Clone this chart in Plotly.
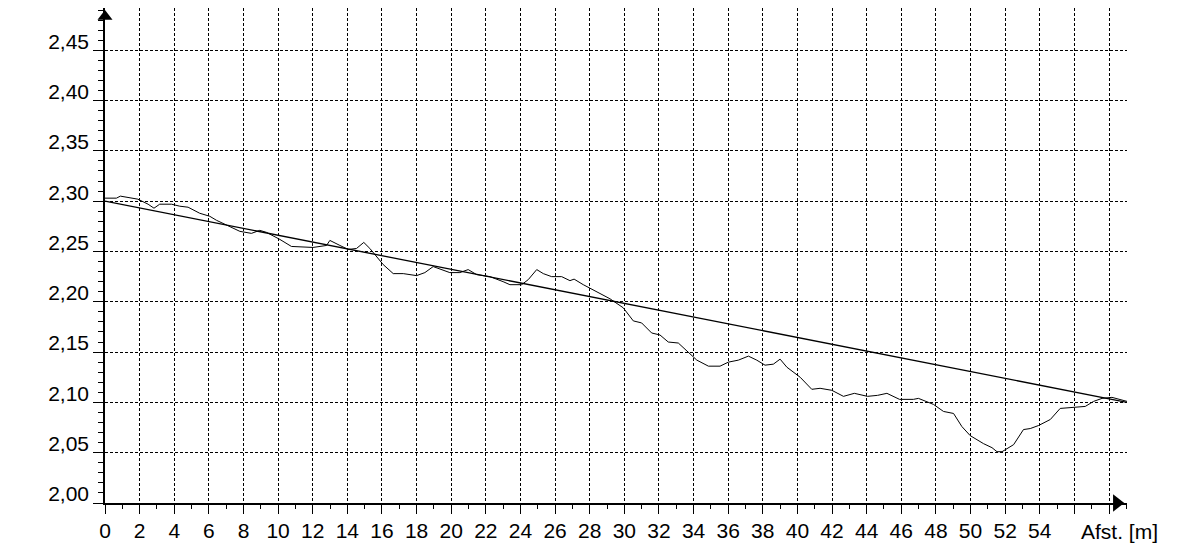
#%%
'''
height profile along the measured line, with the straight reference line
'''

import plotly.graph_objects as go

#### data (distance in m, level in m)
afstand = [0, 0.66, 0.89, 1.9, 2.49, 2.83, 3.16, 3.84, 4.32, 4.8,
           5.47, 6.05, 6.44, 7.2, 7.79, 8.46, 8.94, 9.33, 10.1, 10.77,
           12.02, 12.8, 12.99, 13.57, 14.05, 14.53, 14.95, 15.3, 16.07, 16.65,
           17.23, 18.0, 18.48, 18.96, 19.45, 19.92, 20.5, 20.98, 21.47, 22.24,
           23.0, 23.39, 24.07, 24.45, 24.94, 25.32, 25.8, 26.38, 26.86, 27.1,
           27.63, 28.4, 29.17, 29.94, 30.52, 31.0, 31.58, 32.06, 32.54, 33.12,
           33.6, 34.19, 34.86, 35.53, 36.01, 36.59, 37.17, 37.65, 38.13, 38.61,
           39.0, 39.39, 40.16, 40.83, 41.31, 41.99, 42.66, 43.29, 44.05, 44.63,
           45.17, 45.9, 46.7, 46.99, 47.86, 48.44, 49.02, 49.5, 49.98, 50.75,
           51.24, 51.53, 51.82, 52.49, 53.06, 53.45, 53.93, 54.61, 55.18, 55.76,
           56.63, 57.11, 57.6, 58.17, 58.55, 59.04]
kote = [2.303, 2.303, 2.305, 2.302, 2.297, 2.293, 2.297, 2.297, 2.295, 2.294,
        2.288, 2.285, 2.281, 2.275, 2.270, 2.268, 2.271, 2.269, 2.262, 2.255,
        2.254, 2.256, 2.261, 2.256, 2.252, 2.253, 2.259, 2.253, 2.237, 2.228,
        2.228, 2.226, 2.229, 2.235, 2.232, 2.229, 2.229, 2.232, 2.227, 2.225,
        2.220, 2.217, 2.217, 2.222, 2.232, 2.228, 2.225, 2.225, 2.221, 2.2225,
        2.217, 2.210, 2.203, 2.194, 2.181, 2.179, 2.169, 2.167, 2.160, 2.159,
        2.151, 2.142, 2.136, 2.136, 2.140, 2.142, 2.146, 2.142, 2.137, 2.138,
        2.143, 2.135, 2.125, 2.113, 2.114, 2.112, 2.106, 2.109, 2.106, 2.107,
        2.109, 2.103, 2.103, 2.104, 2.098, 2.091, 2.089, 2.076, 2.067, 2.059,
        2.055, 2.051, 2.051, 2.058, 2.073, 2.074, 2.077, 2.083, 2.094, 2.095,
        2.096, 2.101, 2.104, 2.105, 2.103, 2.101]

# straight line between the end points
linie_afstand = [0, 59.04]
linie_kote = [2.30, 2.10]

x_tickvals = list(range(0, 60, 2))
x_ticktext = [str(v) if v <= 54 else '' for v in x_tickvals]
y_tickvals = [2.00, 2.05, 2.10, 2.15, 2.20, 2.25, 2.30, 2.35, 2.40, 2.45]
x_titel = 'Afst. [m]'

font_navn = 'Liberation Sans Narrow, Liberation Sans, Arial'

fig = go.Figure()
fig.add_trace(go.Scatter(x=linie_afstand, y=linie_kote, mode='lines',
                         line=dict(color='black', width=1.3), hoverinfo='skip'))
fig.add_trace(go.Scatter(x=afstand, y=kote, mode='lines',
                         line=dict(color='black', width=1), hoverinfo='skip'))

#### axis arrows
fig.add_trace(go.Scatter(x=[0], y=[2.4835], mode='markers', cliponaxis=False,
                         marker=dict(symbol='triangle-up', size=13, color='black'),
                         hoverinfo='skip'))
fig.add_trace(go.Scatter(x=[58.45], y=[2.0], mode='markers', cliponaxis=False,
                         marker=dict(symbol='triangle-right', size=15, color='black'),
                         hoverinfo='skip'))

fig.add_annotation(x=58.6, y=0, xref='x', yref='paper', yshift=-28,
                   text=x_titel, showarrow=False, xanchor='center', yanchor='middle',
                   font=dict(family=font_navn, size=21, color='black'))

# the page puts the figure 8 px in from the top left corner
fig.update_layout(
    width=1189, height=560,
    margin=dict(l=97, r=70, t=0, b=65),
    paper_bgcolor='white', plot_bgcolor='white',
    showlegend=False,
    separators=',.',
    font=dict(family=font_navn, size=21, color='black'),
)
fig.update_xaxes(range=[0, 59.04], tickvals=x_tickvals, ticktext=x_ticktext,
                 showgrid=True, gridcolor='black', griddash='3px,2px', gridwidth=1,
                 showline=True, linecolor='black', linewidth=1.5,
                 ticks='outside', ticklen=9, tickcolor='black', tickwidth=1,
                 ticklabelstandoff=-1,
                 minor=dict(dtick=1, ticks='outside', ticklen=4, tickcolor='black', showgrid=False),
                 zeroline=False, fixedrange=True, automargin=False)
fig.update_yaxes(range=[2.0, 2.492], tickvals=y_tickvals, tickformat='.2f',
                 showgrid=True, gridcolor='black', griddash='3px,2px', gridwidth=1,
                 showline=True, linecolor='black', linewidth=1.5,
                 ticks='outside', ticklen=10, tickcolor='black', tickwidth=1,
                 ticklabelshift=-9, ticklabelstandoff=0,
                 minor=dict(dtick=0.01, ticks='outside', ticklen=5, tickcolor='black', showgrid=False),
                 zeroline=False, fixedrange=True, automargin=False)

fig.write_html('out.html')
